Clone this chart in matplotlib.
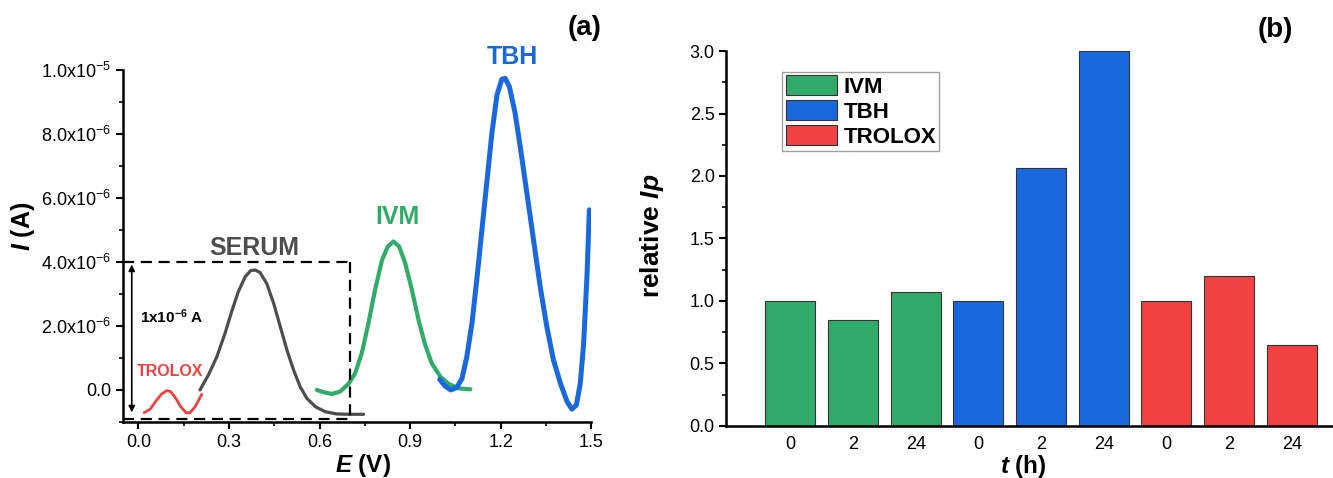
import numpy as np
import matplotlib
matplotlib.use('Agg')
import matplotlib.pyplot as plt
from matplotlib.ticker import MultipleLocator, FuncFormatter
from matplotlib.patches import Patch

plt.rcParams['font.family'] = ['Liberation Sans', 'DejaVu Sans']
plt.rcParams['mathtext.fontset'] = 'custom'
plt.rcParams['mathtext.rm'] = 'Liberation Sans'
plt.rcParams['mathtext.bf'] = 'Liberation Sans:bold'
plt.rcParams['mathtext.it'] = 'Liberation Sans:italic'
plt.rcParams['mathtext.bfit'] = 'Liberation Sans:bold:italic'
plt.rcParams['mathtext.default'] = 'regular'

# ---- panel (a): voltammograms, E in V, I in units of 1e-6 A ----
trolox_e = [0.019, 0.039, 0.061, 0.077, 0.094, 0.107, 0.124, 0.14, 0.158, 0.171, 0.188, 0.21]
trolox_i = [-0.71, -0.60, -0.31, -0.125, -0.02, -0.05, -0.26, -0.52, -0.71, -0.71, -0.52, -0.135]

serum_e = [0.204, 0.232, 0.26, 0.287, 0.309, 0.331, 0.354, 0.372, 0.387, 0.403, 0.425, 0.448,
           0.47, 0.492, 0.514, 0.536, 0.558, 0.586, 0.619, 0.657, 0.702, 0.746]
serum_i = [0.0, 0.47, 1.04, 1.77, 2.45, 3.07, 3.54, 3.73, 3.75, 3.67, 3.33, 2.71,
           1.98, 1.25, 0.625, 0.10, -0.26, -0.52, -0.68, -0.75, -0.76, -0.76]

ivm_e = [0.591, 0.613, 0.641, 0.668, 0.696, 0.718, 0.74, 0.762, 0.784, 0.807, 0.826, 0.845,
         0.864, 0.884, 0.906, 0.928, 0.95, 0.972, 1.0, 1.028, 1.061, 1.1]
ivm_i = [0.0, -0.07, -0.125, -0.05, 0.19, 0.52, 1.15, 2.08, 3.13, 4.06, 4.48, 4.64,
         4.48, 3.96, 3.13, 2.19, 1.41, 0.83, 0.42, 0.19, 0.05, 0.02]

tbh_e = [0.998, 1.016, 1.035, 1.055, 1.072, 1.088, 1.105, 1.121, 1.138, 1.155, 1.171, 1.188,
         1.204, 1.215, 1.229, 1.248, 1.265, 1.287, 1.309, 1.331, 1.353, 1.375, 1.398, 1.42,
         1.436, 1.451, 1.464, 1.475, 1.486, 1.494]
tbh_i = [0.33, 0.125, 0.0, 0.08, 0.36, 1.04, 2.08, 3.44, 5.0, 6.56, 8.02, 9.22,
         9.71, 9.74, 9.48, 8.65, 7.6, 6.15, 4.69, 3.23, 1.98, 0.94, 0.21, -0.36,
         -0.6, -0.47, 0.21, 1.46, 3.54, 5.63]

# ---- panel (b): relative Ip ----
groups = ['IVM', 'TBH', 'TROLOX']
times = ['0', '2', '24']
rel_ip = {'IVM': [1.0, 0.845, 1.07],
          'TBH': [1.0, 2.06, 3.0],
          'TROLOX': [1.0, 1.2, 0.645]}

c_green = '#31ab69'
c_blue = '#1a68de'
c_red = '#f24141'
c_gray = '#4d4d4d'

fig = plt.figure(figsize=(13.33, 4.78), dpi=100)
ax1 = fig.add_axes([0.0925, 0.1172, 0.351, 0.7364])
ax2 = fig.add_axes([0.545, 0.1088, 0.455, 0.7845])

sc = 1e-6
line_kw = dict(solid_capstyle='round', solid_joinstyle='round')
ax1.plot(np.array(trolox_e), np.array(trolox_i) * sc, color=c_red, lw=2.0, **line_kw)
ax1.plot(np.array(serum_e), np.array(serum_i) * sc, color=c_gray, lw=2.3, **line_kw)
ax1.plot(np.array(ivm_e), np.array(ivm_i) * sc, color=c_green, lw=3.0, **line_kw)
ax1.plot(np.array(tbh_e), np.array(tbh_i) * sc, color=c_blue, lw=3.6, **line_kw)

# dashed box and scale arrow
dash = dict(color='black', lw=1.6, ls=(0, (5, 3)), clip_on=False)
ax1.plot([-0.05, 0.702], [4.01e-6, 4.01e-6], **dash)
ax1.plot([0.702, 0.702], [4.01e-6, -0.92e-6], **dash)
ax1.plot([-0.05, 0.702], [-0.92e-6, -0.92e-6], **dash)
ax1.annotate('', xy=(-0.022, -0.70e-6), xytext=(-0.022, 3.92e-6),
             arrowprops=dict(arrowstyle='<|-|>', color='black', lw=1.2,
                             mutation_scale=9, shrinkA=0, shrinkB=0))
ax1.text(0.11, 2.29e-6, r'1x10$^{\mathbf{-6}}$ A', fontsize=11, fontweight='bold',
         ha='center', va='center')
ax1.text(0.105, 0.57e-6, 'TROLOX', color=c_red, fontsize=11.5, fontweight='bold',
         ha='center', va='center')
ax1.text(0.385, 4.45e-6, 'SERUM', color=c_gray, fontsize=18, fontweight='bold',
         ha='center', va='center')
ax1.text(0.86, 5.42e-6, 'IVM', color=c_green, fontsize=18, fontweight='bold',
         ha='center', va='center')
ax1.text(1.24, 10.4e-6, 'TBH', color=c_blue, fontsize=18, fontweight='bold',
         ha='center', va='center', clip_on=False)

ax1.set_xlim(-0.05, 1.5)
ax1.set_ylim(-1.0e-6, 1.0e-5)
ax1.xaxis.set_major_locator(MultipleLocator(0.3))
ax1.xaxis.set_minor_locator(MultipleLocator(0.15))
ax1.yaxis.set_major_locator(MultipleLocator(2e-6))
ax1.yaxis.set_minor_locator(MultipleLocator(1e-6))


def sci_fmt(v, pos):
    if abs(v) < 1e-12:
        return '0.0'
    e = int(np.floor(np.log10(abs(v)) + 1e-9))
    m = v / 10 ** e
    return '%.1fx10$^{%d}$' % (m, e)


ax1.yaxis.set_major_formatter(FuncFormatter(sci_fmt))
ax1.xaxis.set_major_formatter(FuncFormatter(lambda v, p: '%.1f' % v))
for s in ['top', 'right']:
    ax1.spines[s].set_visible(False)
for s in ['left', 'bottom']:
    ax1.spines[s].set_linewidth(1.8)
ax1.tick_params(which='major', direction='out', length=5, width=1.5, labelsize=13)
ax1.tick_params(which='minor', direction='out', length=3, width=1.2)
ax1.set_xlabel(r'$\mathbfit{E}$ (V)', fontsize=17.5, fontweight='bold')
ax1.set_ylabel(r'$\mathbfit{I}$ (A)', fontsize=18, fontweight='bold')
ax1.xaxis.set_label_coords(0.513, -0.086)
ax1.yaxis.set_label_coords(-0.184, 0.555)
fig.text(585 / 1333, 1 - 28 / 478, '(a)', fontsize=20, fontweight='bold', ha='center', va='center')

# ---- bars ----
colors = {'IVM': c_green, 'TBH': c_blue, 'TROLOX': c_red}
pos = 0
xt, xl = [], []
for g in groups:
    for k, t in enumerate(times):
        ax2.bar(pos, rel_ip[g][k], width=0.8, color=colors[g], edgecolor='#333333', lw=0.8)
        xt.append(pos)
        xl.append(t)
        pos += 1
ax2.set_xticks(xt)
ax2.set_xticklabels(xl)
ax2.set_xlim(-1.02, 8.66)
ax2.set_ylim(0, 3.0)
ax2.yaxis.set_major_locator(MultipleLocator(0.5))
ax2.yaxis.set_minor_locator(MultipleLocator(0.25))
ax2.yaxis.set_major_formatter(FuncFormatter(lambda v, p: '%.1f' % v))
for s in ['top', 'right']:
    ax2.spines[s].set_visible(False)
for s in ['left', 'bottom']:
    ax2.spines[s].set_linewidth(1.8)
ax2.tick_params(axis='y', which='major', direction='out', length=5, width=1.5, labelsize=13)
ax2.tick_params(axis='y', which='minor', direction='out', length=3, width=1.2)
ax2.tick_params(axis='x', length=0, labelsize=13, pad=7)
ax2.set_xlabel(r'$\mathbfit{t}$ (h)', fontsize=17.5, fontweight='bold')
ax2.set_ylabel(r'relative $\mathbfit{Ip}$', fontsize=19, fontweight='bold')
ax2.xaxis.set_label_coords(0.49, -0.073)
ax2.yaxis.set_label_coords(-0.10, 0.507)

handles = [Patch(facecolor=colors[g], edgecolor='#333333', lw=0.8, label=g) for g in groups]
leg = ax2.legend(handles=handles, loc='upper left', bbox_to_anchor=(0.092, 0.945),
                 borderaxespad=0, fancybox=False, frameon=True, edgecolor='#888888',
                 prop={'weight': 'bold', 'size': 16}, handlelength=2.3, handleheight=1.0,
                 labelspacing=0.12, borderpad=0.15, handletextpad=0.3)
leg.get_frame().set_linewidth(1.0)
fig.text(1275 / 1333, 1 - 30 / 478, '(b)', fontsize=20, fontweight='bold', ha='center', va='center')

fig.savefig('out.png', dpi=100)
